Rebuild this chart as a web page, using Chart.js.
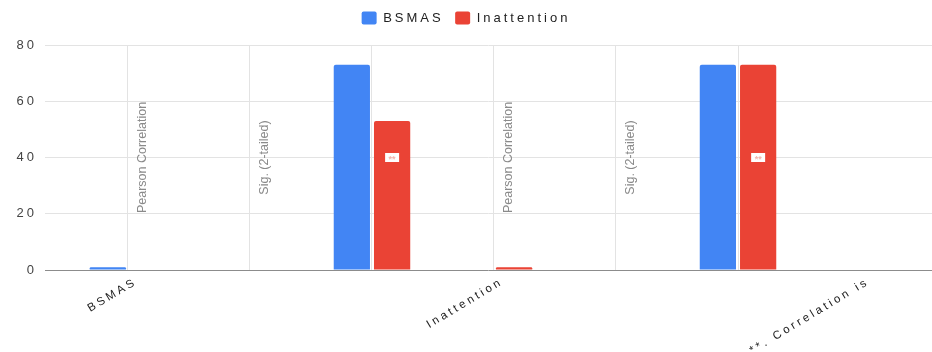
<!DOCTYPE html>
<html>
<head>
<meta charset="utf-8">
<script src="https://cdn.jsdelivr.net/npm/chart.js@4.4.1/dist/chart.umd.min.js"></script>
<style>
  body { margin: 0; background: #fff; }
  #wrap { width: 932px; height: 352px; }
</style>
</head>
<body>
<div id="wrap"><canvas id="corrChart"></canvas></div>
<script>
// ── DATA ──
const rowLabels    = ['BSMAS', '', '', 'Inattention', '', '', '**. Correlation is'];
const statLabels   = ['Pearson Correlation', 'Sig. (2-tailed)', '', 'Pearson Correlation', 'Sig. (2-tailed)', '', ''];
const bsmasValues  = [1, null, 73, null, null, 73, null];
const inattnValues = [null, null, 53, 1, null, 73, null];
const inattnNotes  = ['', '', '**', '', '', '**', ''];
const yTicks       = [0, 20, 40, 60, 80];
const noteLevel    = 40;

const BLUE = '#4285f4';
const RED  = '#ea4335';

// ── LETTER SPACING (wide text like the sheet export) ──
const spacingPlugin = {
  id: 'spacing',
  beforeLayout(chart) { chart.ctx.letterSpacing = '3px'; },
  beforeDraw(chart)   { chart.ctx.letterSpacing = '3px'; }
};

// ── STAT LABELS + NOTES ──
const statLabelPlugin = {
  id: 'statLabels',
  afterDatasetsDraw(chart) {
    const { ctx, scales: { x, y } } = chart;
    const cy = y.getPixelForValue(noteLevel);
    ctx.save();
    ctx.letterSpacing = '0px';
    ctx.textAlign = 'center';
    ctx.textBaseline = 'middle';

    ctx.font = '12.5px Arial';
    ctx.fillStyle = '#8a8a8a';
    statLabels.forEach((txt, i) => {
      if (!txt) return;
      ctx.save();
      ctx.translate(x.getPixelForValue(i) + 15, cy);
      ctx.rotate(-Math.PI / 2);
      ctx.fillText(txt, 0, 0);
      ctx.restore();
    });

    const meta = chart.getDatasetMeta(1);
    inattnNotes.forEach((n, i) => {
      if (!n) return;
      const bar = meta.data[i];
      ctx.fillStyle = '#fff';
      ctx.fillRect(bar.x - 7, cy - 4.5, 14, 9);
      ctx.fillStyle = '#f3b4ad';
      ctx.font = 'bold 9px Arial';
      ctx.fillText(n, bar.x, cy + 2);
    });
    ctx.restore();
  }
};

const toPoints = vals => vals.map((v, i) => ({ x: i, y: v }));

new Chart(document.getElementById('corrChart'), {
  type: 'bar',
  data: {
    datasets: [
      { label: 'BSMAS',       data: toPoints(bsmasValues),  backgroundColor: BLUE, borderRadius: 2, borderSkipped: 'bottom' },
      { label: 'Inattention', data: toPoints(inattnValues), backgroundColor: RED,  borderRadius: 2, borderSkipped: 'bottom' }
    ]
  },
  options: {
    responsive: true,
    maintainAspectRatio: false,
    animation: false,
    categoryPercentage: 0.66,
    barPercentage: 0.9,
    layout: { padding: { top: 0, right: 0, bottom: 2, left: 0 } },
    plugins: {
      legend: {
        position: 'top',
        labels: {
          color: '#222',
          font: { family: 'Arial', size: 13 },
          boxWidth: 15,
          boxHeight: 13,
          useBorderRadius: true,
          borderRadius: 2,
          padding: 11.5
        }
      },
      tooltip: { enabled: false }
    },
    scales: {
      x: {
        type: 'linear',
        offset: false,
        min: -0.68,
        max: 6.59,
        afterBuildTicks: s => { s.ticks = rowLabels.map((_, i) => ({ value: i })); },
        afterFit: s => { s.height = 80; },
        grid: {
          offset: false,
          drawTicks: false,
          color: c => c.tick && c.tick.value === rowLabels.length - 1 ? 'rgba(0,0,0,0)' : '#e3e3e3'
        },
        border: { display: false },
        ticks: {
          autoSkip: false,
          minRotation: 31,
          maxRotation: 31,
          padding: 5,
          labelOffset: 8,
          color: '#222',
          font: { family: 'Arial', size: 11.5 },
          callback: v => rowLabels[v] || ''
        }
      },
      // empty strip between legend and plot
      xTop: {
        type: 'linear',
        position: 'top',
        grid: { display: false },
        border: { display: false },
        ticks: { display: false },
        afterFit: s => { s.height = 10.5; }
      },
      y: {
        min: 0,
        max: 80,
        afterBuildTicks: s => { s.ticks = yTicks.map(v => ({ value: v })); },
        afterFit: s => { s.width = 45; },
        grid: {
          drawTicks: false,
          color: c => c.tick && c.tick.value === 0 ? '#8c8c8c' : '#e3e3e3'
        },
        border: { display: false },
        ticks: {
          padding: 8,
          color: '#444',
          font: { family: 'Arial', size: 13 }
        }
      }
    }
  },
  plugins: [spacingPlugin, statLabelPlugin]
});
</script>
</body>
</html>
